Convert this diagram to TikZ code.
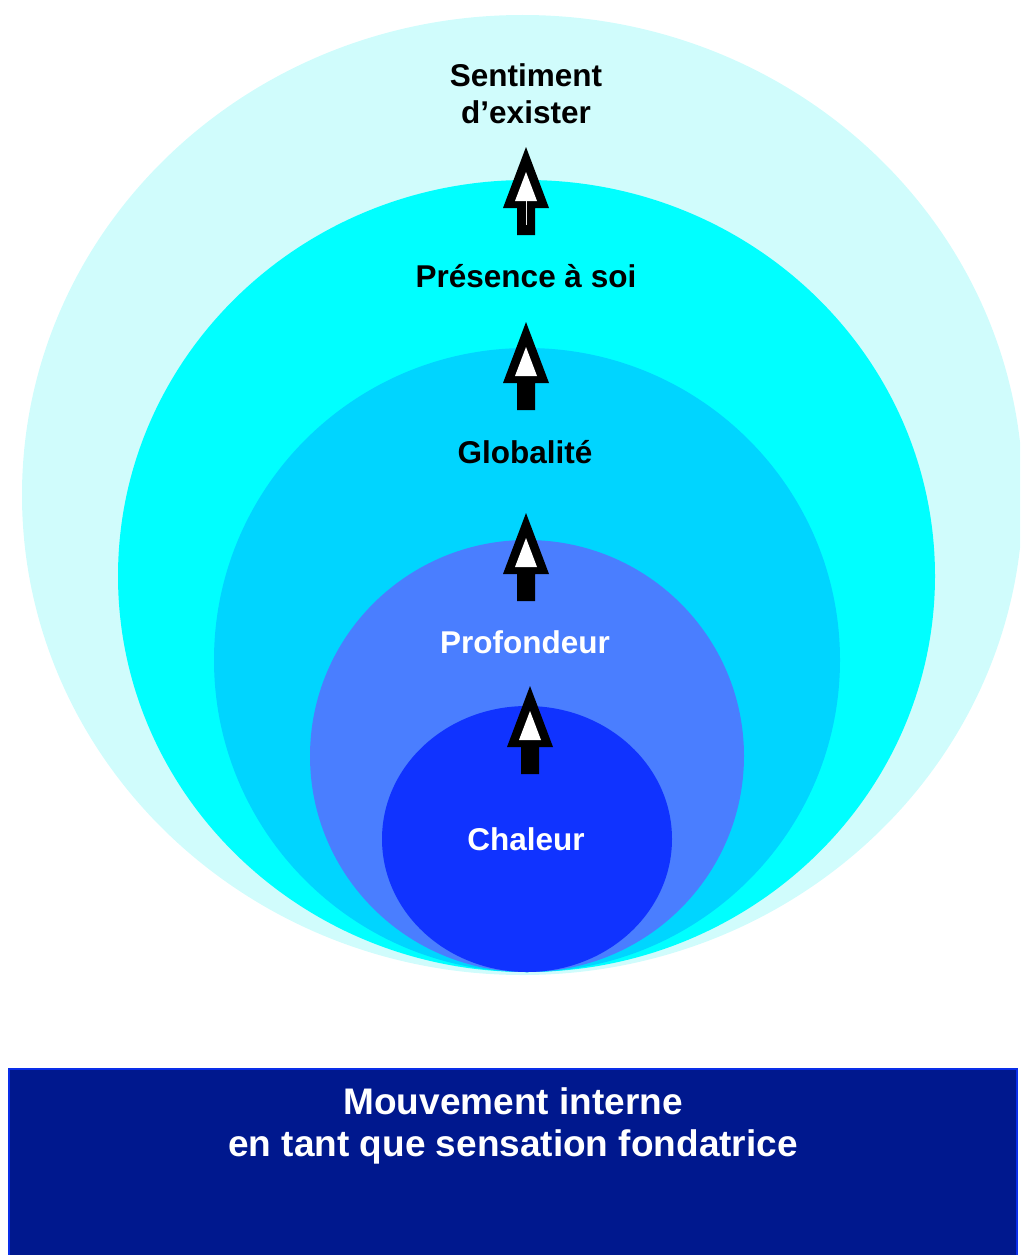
\documentclass[tikz,border=0pt]{standalone}
\usepackage{fontspec}
\setmainfont{Liberation Sans}
\definecolor{lightcyan}{HTML}{D0FCFC}
\definecolor{cyanA}{HTML}{00FFFF}
\definecolor{skyB}{HTML}{00D5FF}
\definecolor{blueC}{HTML}{4A7EFF}
\definecolor{blueD}{HTML}{1033FF}
\definecolor{navy}{HTML}{00188E}
\definecolor{navyedge}{HTML}{0A2EE8}
\newcommand\blockarrow[2]{%
  \fill[black] (#1,#2) -- (#1+23,#2+61) -- (#1+9,#2+61) -- (#1+9,#2+88) -- (#1-9,#2+88) -- (#1-9,#2+61) -- (#1-23,#2+61) -- cycle;
  \fill[white] (#1,#2+25) -- (#1+11,#2+54) -- (#1-11,#2+54) -- cycle;}
\tikzset{
  lbl/.style={font=\fontsize{31.5}{37}\selectfont\bfseries, align=center, inner sep=0pt},
  boxlbl/.style={font=\fontsize{37}{42}\selectfont\bfseries, align=center, inner sep=0pt, text=white}
}
\begin{document}
\begin{tikzpicture}[x=1pt,y=-1pt]
\useasboundingbox (0,0) rectangle (1020,1255);
\clip (0,0) rectangle (1020,1255);
\fill[lightcyan] (522.5,495) ellipse [x radius=500.5, y radius=480];
\fill[cyanA] (526.5,576) ellipse [x radius=408.5, y radius=396];
\fill[skyB] (527,660) ellipse [x radius=313, y radius=312];
\fill[blueC] (527,756) ellipse [x radius=217, y radius=216];
\fill[blueD] (527,839) ellipse [x radius=145, y radius=133];
\blockarrow{526}{147}
\draw[white!85!gray, line width=0.8pt] (526,201) -- (526,225);
\blockarrow{526}{322}
\blockarrow{526}{513}
\blockarrow{530}{686}
\node[lbl] (sent) at (526,94) {Sentiment\\d’exister};
\node[lbl] (pres) at (526,276) {Présence à soi};
\node[lbl] (glob) at (525,452) {Globalité};
\node[lbl, text=white] (prof) at (525,642) {Profondeur};
\node[lbl, text=white] (chal) at (526,839) {Chaleur};
\draw[fill=navy, draw=navyedge, line width=2pt] (9,1069) rectangle (1017,1262);
\node[boxlbl] (mouv) at (513,1126) {Mouvement interne\\en tant que sensation fondatrice};
\end{tikzpicture}
\end{document}
